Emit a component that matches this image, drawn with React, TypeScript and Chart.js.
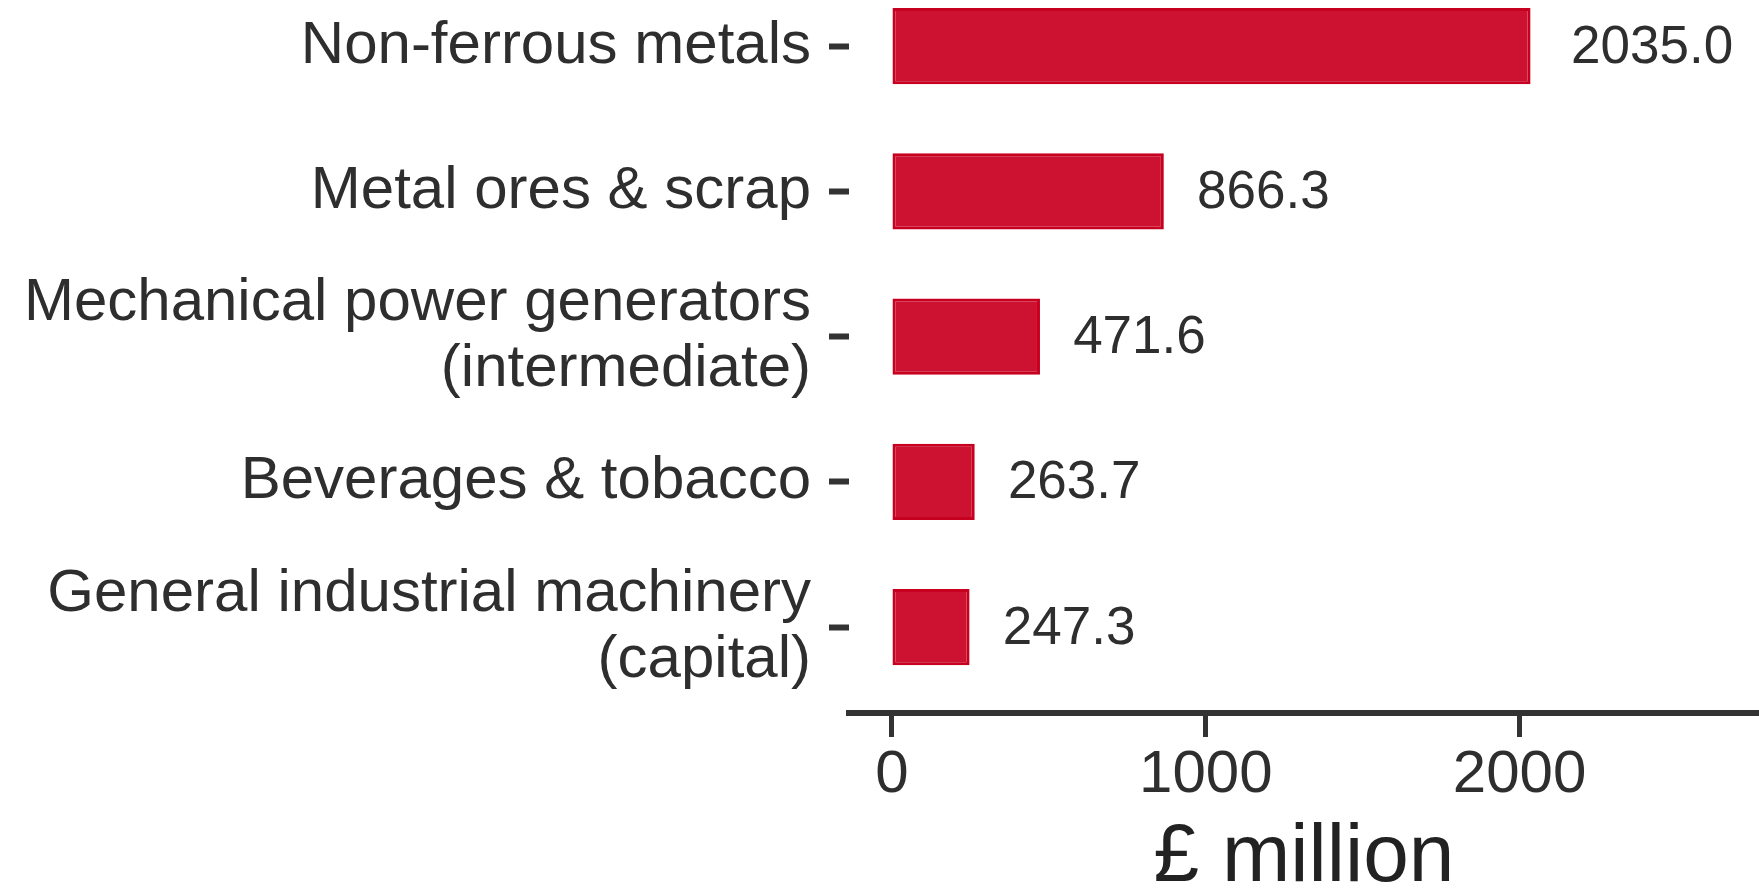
import React, { useEffect, useRef } from "react";
import { Chart, registerables } from "chart.js";

Chart.register(...registerables);

const categories: string[][] = [
  ["Non-ferrous metals"],
  ["Metal ores & scrap"],
  ["Mechanical power generators", "(intermediate)"],
  ["Beverages & tobacco"],
  ["General industrial machinery", "(capital)"],
];
const values: number[] = [2035.0, 866.3, 471.6, 263.7, 247.3];
const xTicks: number[] = [0, 1000, 2000];
const xTitle = "£ million";

const FAMILY = '"Liberation Sans", Arial, sans-serif';
const BAR_COLOR = "#CD1130";
const TEXT_COLOR = "#2E2E2E";

const valueLabels = {
  id: "valueLabels",
  afterDatasetsDraw(chart: any) {
    const ctx = chart.ctx;
    const meta = chart.getDatasetMeta(0);
    ctx.save();
    ctx.font = `53px ${FAMILY}`;
    ctx.fillStyle = TEXT_COLOR;
    ctx.textAlign = "left";
    ctx.textBaseline = "middle";
    meta.data.forEach((el: any, i: number) => {
      const txt = values[i].toFixed(1);
      const w = ctx.measureText(txt).width;
      ctx.fillText(txt, el.x + 0.25 * w, el.y + 2);
    });
    ctx.restore();
  },
};

export default function App() {
  const ref = useRef<HTMLCanvasElement | null>(null);

  useEffect(() => {
    document.body.style.margin = "0";
    const canvas = ref.current;
    if (!canvas) return;
    const chart = new Chart(canvas, {
      type: "bar",
      data: {
        datasets: [
          {
            data: values.map((v, i) => ({ x: v, y: i })),
            backgroundColor: BAR_COLOR,
            borderColor: "#C8001F",
            borderWidth: 3,
            borderSkipped: false,
            categoryPercentage: 1,
            barPercentage: 0.525,
          },
        ],
      },
      options: {
        indexAxis: "y",
        responsive: false,
        animation: false,
        events: [],
        layout: { padding: 0 },
        plugins: {
          legend: { display: false },
          tooltip: { enabled: false },
        },
        scales: {
          x: {
            type: "linear",
            position: "bottom",
            min: -137,
            max: 2763,
            bounds: "data",
            offset: false,
            afterBuildTicks: (s: any) => {
              s.ticks = xTicks.map((v) => ({ value: v }));
            },
            afterFit: (s: any) => {
              s.height = 178;
            },
            grid: {
              offset: false,
              drawOnChartArea: false,
              drawTicks: true,
              tickLength: 24,
              tickWidth: 5,
              tickColor: "#333333",
            },
            border: { display: true, color: "#333333", width: 6 },
            ticks: {
              font: { family: FAMILY, size: 60 },
              color: TEXT_COLOR,
              padding: 2,
              maxRotation: 0,
              autoSkip: false,
              callback: (v: any) => String(v),
            },
            title: {
              display: true,
              text: xTitle,
              font: { family: FAMILY, size: 82, lineHeight: 0.8 },
              color: "#222222",
              padding: { top: 0, bottom: 0 },
            },
          },
          y: {
            type: "linear",
            position: "left",
            reverse: true,
            min: -0.317,
            max: 4.592,
            bounds: "data",
            offset: false,
            afterBuildTicks: (s: any) => {
              s.ticks = categories.map((_, i) => ({ value: i }));
            },
            afterFit: (s: any) => {
              s.width = 849;
              s.paddingTop = 0;
              s.paddingBottom = 0;
            },
            grid: {
              offset: false,
              drawOnChartArea: false,
              drawTicks: true,
              tickLength: 20,
              tickWidth: 6,
              tickColor: "#333333",
            },
            border: { display: false },
            ticks: {
              font: { family: FAMILY, size: 60, lineHeight: 1.1 },
              color: TEXT_COLOR,
              padding: 18,
              autoSkip: false,
              callback: (v: any) => categories[Number(v)] ?? "",
            },
          },
        },
      },
      plugins: [valueLabels],
    } as any);
    return () => chart.destroy();
  }, []);

  return (
    <div style={{ width: 1759, height: 891 }}>
      <canvas ref={ref} width={1759} height={891} style={{ display: "block" }} />
    </div>
  );
}
